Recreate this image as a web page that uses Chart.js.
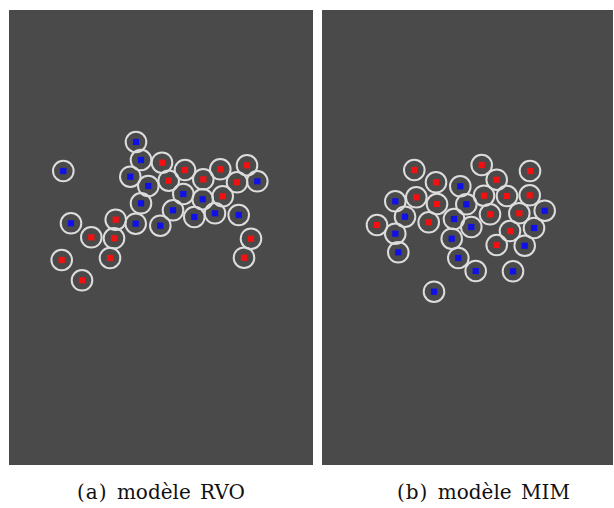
<!DOCTYPE html>
<html lang="fr">
<head>
<meta charset="utf-8">
<title>modèle RVO / modèle MIM</title>
<script src="https://cdn.jsdelivr.net/npm/chart.js@4.4.1/dist/chart.umd.min.js"></script>
<style>
    body { margin: 0; background: #fff; width: 614px; height: 508px; position: relative; overflow: hidden; }
    canvas { position: absolute; background: #4a4a4a; }
    #rvo { left: 9px; top: 10px; }
    #mim { left: 322px; top: 10px; }
    .caption { position: absolute; top: 481px; font-family: "DejaVu Serif", serif; font-size: 20px;
               line-height: 22px; color: #111; white-space: nowrap; word-spacing: 3px; }
    .caption .tag { letter-spacing: 1px; }
</style>
</head>
<body>

<canvas id="rvo" width="304" height="455"></canvas>
<canvas id="mim" width="291" height="455"></canvas>
<div class="caption" id="capA" style="left:77px"><span class="tag">(a)</span> modèle RVO</div>
<div class="caption" id="capB" style="left:397px"><span class="tag">(b)</span> modèle MIM</div>

<script>
// agent positions (pixel coordinates of the figure)
const rvoRed = [
    [162, 162.7], [185, 170], [220.3, 169.3], [247, 165.3], [168.7, 180.7], [203.3, 179.3],
    [237, 182.3], [222.7, 196.3], [115.7, 219.7], [91.3, 237.3], [114, 238.3], [251, 238.7],
    [61.7, 260], [110, 258], [244, 257.7], [82, 280.3]
];
const rvoBlue = [
    [136, 142], [63.3, 171], [141, 160], [130.3, 176.7], [148.3, 186], [257.3, 181.3],
    [183.3, 194], [141, 203.3], [202.7, 199.3], [173, 210.3], [194.3, 217], [215, 213.3],
    [238.7, 215], [71, 223.3], [135.7, 223.7], [160.3, 225.7]
];
const mimRed = [
    [414.3, 170], [481.7, 165], [530, 171], [436, 182.3], [496.7, 179.7], [416.3, 197.3],
    [437, 204], [484, 195.7], [507, 196], [529.7, 195.3], [490, 214.3], [519.3, 213.3],
    [377, 225], [428.7, 222.3], [510, 231], [496.7, 245]
];
const mimBlue = [
    [460.3, 186.3], [395.3, 201.3], [466.3, 204.3], [405, 216.7], [454, 219], [544.7, 210.7],
    [395.3, 233.7], [471.3, 227], [534, 228], [451.7, 238.7], [524.7, 245.7], [398.3, 252.3],
    [458.3, 258], [475.7, 271], [513, 271.3], [434, 291.7]
];

// panel extents in figure pixels
const rvoBox = { x0: 9, x1: 313, y0: 10, y1: 465 };
const mimBox = { x0: 322, x1: 613, y0: 10, y1: 465 };

function pts(list) {
    return list.map(p => ({ x: p[0], y: p[1] }));
}

function squares(list, color) {
    return {
        data: pts(list),
        pointStyle: 'rect',
        pointRadius: 4.4,
        pointBorderWidth: 0,
        pointBackgroundColor: color,
        pointBorderColor: color,
        showLine: false
    };
}

function crowd(id, red, blue, box) {
    new Chart(document.getElementById(id), {
        type: 'scatter',
        data: {
            datasets: [
                squares(red, '#f21010'),
                squares(blue, '#1010e8'),
                {
                    data: pts(red.concat(blue)),
                    pointStyle: 'circle',
                    pointRadius: 10.3,
                    pointBorderWidth: 2,
                    pointBorderColor: '#dcdcdc',
                    pointBackgroundColor: 'rgba(0,0,0,0)',
                    showLine: false
                }
            ]
        },
        options: {
            responsive: false,
            animation: false,
            devicePixelRatio: 1,
            layout: { padding: 0, autoPadding: false },
            plugins: { legend: { display: false }, tooltip: { enabled: false } },
            events: [],
            scales: {
                x: { type: 'linear', display: false, min: box.x0, max: box.x1 },
                y: { type: 'linear', display: false, min: box.y0, max: box.y1, reverse: true }
            }
        }
    });
}

crowd('rvo', rvoRed, rvoBlue, rvoBox);
crowd('mim', mimRed, mimBlue, mimBox);
</script>
</body>
</html>
